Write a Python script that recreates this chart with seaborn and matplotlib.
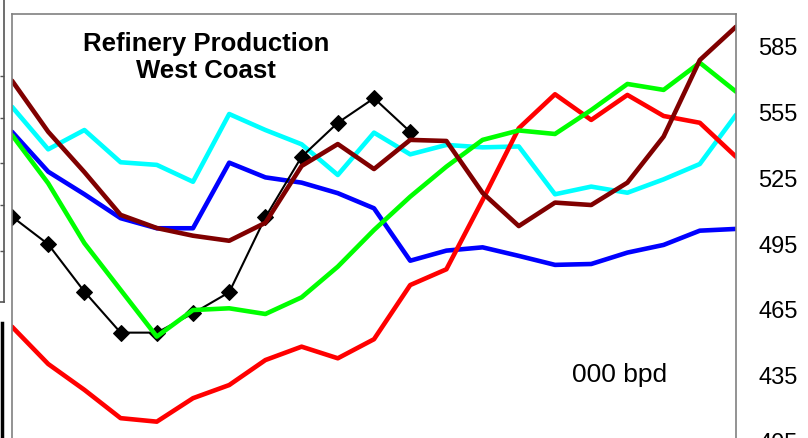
import numpy as np
import pandas as pd
import matplotlib
matplotlib.use("Agg")
import matplotlib.pyplot as plt
import seaborn as sns

# --- data (000 bpd), 21 periods ---
periods = list(range(21))

cyan_vals = [557.6, 538.2, 547.0, 532.3, 531.1, 523.4, 554.3, 547.0, 540.5, 526.5, 545.8,
             535.9, 540.2, 539.1, 539.5, 517.7, 521.2, 518.4, 524.5, 531.5, 553.9]
blue_vals = [546.2, 528.0, 517.7, 506.8, 502.2, 502.2, 532.1, 525.4, 523.0, 518.2, 511.3,
             487.4, 492.0, 493.5, 489.6, 485.5, 485.9, 491.1, 494.6, 501.1, 501.9]
red_vals = [457.3, 440.3, 428.5, 415.6, 414.0, 424.7, 430.7, 442.1, 448.2, 442.9, 451.6,
            476.3, 483.5, 515.1, 547.8, 563.3, 551.6, 563.0, 553.4, 550.3, 534.8]
green_vals = [544.7, 522.7, 495.4, 474.1, 452.8, 464.9, 465.7, 463.1, 470.7, 484.7, 501.4,
              516.6, 530.3, 542.5, 546.8, 545.2, 556.1, 568.0, 565.3, 577.7, 564.5]
brown_vals = [569.5, 546.2, 527.8, 508.3, 502.3, 498.8, 496.5, 504.7, 530.6, 540.6, 529.2,
              542.5, 542.0, 518.3, 503.2, 513.9, 512.8, 523.0, 544.0, 578.9, 594.1]
# current year, only partly reported
black_vals = [507.5, 494.9, 473.3, 454.6, 454.6, 463.4, 473.0, 507.2, 534.8, 550.3, 561.5, 546.2]

y_ticks = [405, 435, 465, 495, 525, 555, 585]

series = [
    ("cyan", cyan_vals, "#00FFFF"),
    ("blue", blue_vals, "#0000FF"),
    ("black", black_vals, "#000000"),
    ("red", red_vals, "#FF0000"),
    ("green", green_vals, "#00FF00"),
    ("brown", brown_vals, "#800000"),
]

sns.set_theme(style="white")
plt.rcParams['font.family'] = ['Liberation Sans', 'DejaVu Sans']

fig = plt.figure(figsize=(8.08, 4.38), dpi=100)

# fragments of the neighbouring charts at the left edge
frag = fig.add_axes([-0.1, 1 - 302 / 438, 0.1 + 3.5 / 808, 302 / 438])
frag.set_xlim(0, 1)
frag.set_ylim(0, 1)
frag.set_xticks([])
frag.set_yticks([0.17, 0.32, 0.46, 0.61, 0.75])
frag.yaxis.tick_right()
frag.tick_params(axis="y", direction="in", length=3, width=1, color="#555555", labelright=False)
for s in ["left", "top"]:
    frag.spines[s].set_visible(False)
for s in ["right", "bottom"]:
    frag.spines[s].set_color("#555555")
    frag.spines[s].set_linewidth(1.2)

frag2 = fig.add_axes([-0.1, -0.1, 0.1 + 2 / 808, 1.1 - 323 / 438])
frag2.set_xticks([])
frag2.set_yticks([])
for s in ["left", "top", "bottom"]:
    frag2.spines[s].set_visible(False)
frag2.spines["right"].set_color("black")
frag2.spines["right"].set_linewidth(2.5)

# main chart
ax = fig.add_axes([12 / 808, 1 - 441.4 / 438, 724 / 808, 427.6 / 438])

for name, vals, color in series:
    df = pd.DataFrame({"period": periods[:len(vals)], "value": vals})
    if name == "black":
        sns.lineplot(data=df, x="period", y="value", ax=ax, color=color, linewidth=1.5,
                     marker="D", markersize=8.5, markeredgecolor="black")
    else:
        sns.lineplot(data=df, x="period", y="value", ax=ax, color=color, linewidth=3.3)

ax.set_xlim(0, 20)
ax.set_ylim(405, 600)
ax.set_xticks([])
ax.set_yticks(y_ticks)
ax.yaxis.tick_right()
ax.tick_params(axis="y", length=0, pad=16, labelsize=17, labelcolor="black")
ax.set_xlabel("")
ax.set_ylabel("")
for s in ["left", "top", "right", "bottom"]:
    ax.spines[s].set_color("#808080")
    ax.spines[s].set_linewidth(1.2)

ax.text(0.268, 0.897, "Refinery Production\nWest Coast", transform=ax.transAxes,
        ha="center", va="center", fontsize=18.5, fontweight="bold", linespacing=1.15,
        color="black")
ax.text(0.839, 0.155, "000 bpd", transform=ax.transAxes, ha="center", va="center",
        fontsize=19, color="black")

fig.savefig("out.png", dpi=100)
